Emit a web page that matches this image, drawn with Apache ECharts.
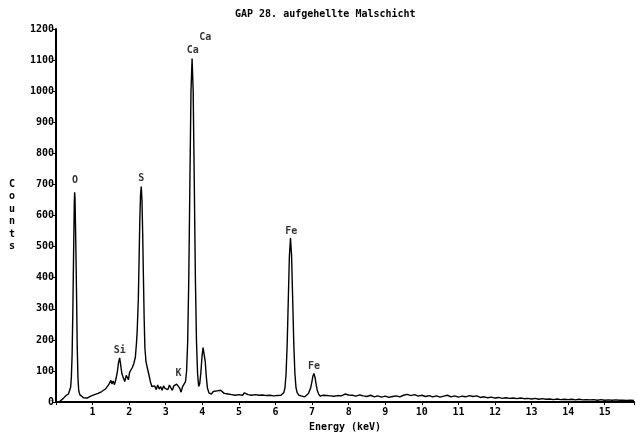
<!DOCTYPE html>
<html>
<head>
<meta charset="utf-8">
<title>GAP 28</title>
<script src="https://cdn.jsdelivr.net/npm/echarts@6/dist/echarts.min.js"></script>
<style>
	html, body { margin: 0; padding: 0; background: #fff; }
	#spectrum { width: 637px; height: 437px; }
</style>
</head>
<body>
<div id="spectrum"></div>
<script>
// [keV, counts]
var lowRegion = [
	[0.00, 0], [0.05, 0], [0.10, 2], [0.15, 5], [0.20, 12], [0.25, 18], [0.28, 22], [0.31, 20],
	[0.34, 26], [0.37, 30], [0.40, 48], [0.42, 80], [0.44, 150], [0.46, 290], [0.48, 470],
	[0.50, 640], [0.51, 675], [0.52, 655], [0.54, 520], [0.56, 360], [0.58, 180], [0.60, 80],
	[0.62, 38], [0.65, 24], [0.70, 18], [0.75, 14], [0.80, 10], [0.85, 13], [0.90, 12],
	[0.95, 19], [1.00, 17], [1.05, 24], [1.10, 21], [1.15, 28], [1.20, 24], [1.25, 34],
	[1.30, 31], [1.35, 42], [1.40, 38], [1.45, 58], [1.50, 70], [1.53, 58], [1.56, 68],
	[1.60, 56], [1.64, 75], [1.68, 100], [1.71, 128], [1.74, 142], [1.77, 118], [1.80, 92],
	[1.84, 78], [1.88, 66], [1.92, 86], [1.95, 92], [1.98, 72], [2.01, 95], [2.05, 104],
	[2.09, 112], [2.13, 125], [2.17, 145], [2.20, 190], [2.22, 230], [2.25, 330], [2.27, 450],
	[2.29, 580], [2.31, 665], [2.33, 693], [2.35, 650], [2.37, 540], [2.39, 400], [2.41, 270],
	[2.43, 175], [2.46, 130], [2.50, 108], [2.54, 88], [2.58, 66], [2.62, 50]
];
var caRegion = [
	[2.66, 45], [2.70, 52], [2.74, 40], [2.78, 55], [2.82, 42], [2.86, 50], [2.90, 38],
	[2.94, 52], [2.98, 44], [3.02, 50], [3.06, 40], [3.10, 55], [3.14, 46], [3.18, 38],
	[3.22, 52], [3.26, 48], [3.30, 58], [3.34, 62], [3.38, 45], [3.42, 32], [3.46, 50],
	[3.50, 58], [3.54, 66], [3.57, 100], [3.60, 196], [3.63, 400], [3.66, 705], [3.69, 1000],
	[3.72, 1105], [3.75, 1000], [3.78, 705], [3.81, 400], [3.84, 196], [3.87, 92], [3.90, 50],
	[3.93, 60], [3.96, 95], [3.99, 145], [4.02, 175], [4.05, 170], [4.08, 130], [4.11, 80],
	[4.14, 45], [4.18, 30]
];
var feRegion = [
	[4.20, 32], [4.25, 26], [4.30, 34], [4.35, 28], [4.40, 36], [4.45, 30], [4.50, 38],
	[4.55, 32], [4.60, 28], [4.65, 34], [4.70, 26], [4.75, 30], [4.80, 24], [4.85, 28],
	[4.90, 22], [4.95, 26], [5.00, 24], [5.05, 28], [5.10, 22], [5.15, 30], [5.20, 26],
	[5.25, 24], [5.30, 30], [5.35, 22], [5.40, 28], [5.45, 24], [5.50, 26], [5.55, 22],
	[5.60, 27], [5.65, 23], [5.70, 26], [5.75, 21], [5.80, 25], [5.85, 22], [5.90, 24],
	[5.95, 20], [6.00, 23], [6.05, 21], [6.10, 24], [6.15, 22], [6.20, 26], [6.23, 31],
	[6.26, 47], [6.29, 93], [6.32, 188], [6.35, 330], [6.38, 469], [6.41, 528], [6.44, 469],
	[6.47, 330], [6.50, 188], [6.53, 93], [6.56, 47], [6.59, 31], [6.64, 22], [6.70, 20],
	[6.75, 18], [6.80, 17], [6.85, 20], [6.90, 28], [6.93, 34], [6.96, 45], [6.99, 62],
	[7.02, 82], [7.05, 92], [7.08, 80], [7.11, 58], [7.14, 38], [7.18, 26], [7.22, 19],
	[7.25, 19], [7.30, 22], [7.35, 18], [7.40, 21], [7.45, 25], [7.50, 20], [7.55, 23],
	[7.60, 19], [7.65, 24], [7.70, 21], [7.75, 25], [7.80, 20], [7.85, 23], [7.90, 26],
	[7.95, 21], [8.00, 23]
];
var tailRegion = [
	[8.1, 22], [8.2, 19], [8.3, 23], [8.4, 20], [8.5, 18], [8.6, 22], [8.7, 17], [8.8, 20],
	[8.9, 16], [9.0, 19], [9.1, 15], [9.2, 18], [9.3, 20], [9.4, 17], [9.5, 22], [9.6, 25],
	[9.7, 21], [9.8, 24], [9.9, 19], [10.0, 22], [10.1, 18], [10.2, 21], [10.3, 17],
	[10.4, 20], [10.5, 16], [10.6, 19], [10.7, 22], [10.8, 17], [10.9, 20], [11.0, 16],
	[11.1, 19], [11.2, 17], [11.3, 21], [11.4, 18], [11.5, 20], [11.6, 15], [11.7, 17],
	[11.8, 14], [11.9, 16], [12.0, 13], [12.1, 15], [12.2, 12], [12.3, 14], [12.4, 12],
	[12.5, 13], [12.6, 11], [12.7, 13], [12.8, 11], [12.9, 12], [13.0, 10], [13.1, 12],
	[13.2, 9], [13.3, 11], [13.4, 9], [13.5, 10], [13.6, 8], [13.7, 10], [13.8, 8],
	[13.9, 9], [14.0, 8], [14.1, 9], [14.2, 7], [14.3, 9], [14.4, 7], [14.5, 8], [14.6, 7],
	[14.7, 8], [14.8, 6], [14.9, 8], [15.0, 6], [15.1, 7], [15.2, 6], [15.3, 7], [15.4, 6],
	[15.5, 6], [15.6, 5], [15.7, 6], [15.8, 5]
];

var peakNames = ['O', 'Si', 'S', 'K', 'Ca', 'Ca', 'Fe', 'Fe'];
var peakLabelPos = [[0.52, 712], [1.74, 166], [2.33, 719], [3.35, 92], [3.74, 1132], [4.08, 1174], [6.43, 549], [7.05, 115]];

var monoFont = '"DejaVu Sans Mono", monospace';

function showSpectrumEchart(id){
	var spectrumChart = echarts.init(document.getElementById(id));
	var labelData = [];
	for (var i = 0; i < peakNames.length; i++) {
		labelData.push({ name : peakNames[i], value : peakLabelPos[i] });
	}
	var spectrumOption = {
		animation : false,
		title : {
			text : 'GAP 28. aufgehellte Malschicht',
			left : 235,
			top : 9,
			padding : 0,
			textStyle : {
				color : '#000',
				fontFamily : monoFont,
				fontWeight : 'bold',
				fontSize : 10
			}
		},
		grid : {
			left : 56,
			right : 0,
			top : 29,
			bottom : 28
		},
		xAxis : {
			type : 'value',
			min : 0,
			max : 15.8,
			interval : 1,
			name : 'Energy (keV)',
			nameLocation : 'middle',
			nameGap : 17,
			nameTextStyle : {
				color : '#000',
				fontFamily : monoFont,
				fontWeight : 'bold',
				fontSize : 10
			},
			axisLine : {
				show : true,
				lineStyle : { color : '#000', width : 2 }
			},
			axisTick : {
				show : true,
				length : 3,
				lineStyle : { color : '#000' }
			},
			axisLabel : {
				margin : 5,
				color : '#000',
				fontFamily : monoFont,
				fontWeight : 'bold',
				fontSize : 10,
				formatter : function(v){
					return (v > 0 && v <= 15 && v % 1 === 0) ? String(v) : '';
				}
			},
			splitLine : { show : false }
		},
		yAxis : {
			type : 'value',
			min : 0,
			max : 1200,
			interval : 100,
			name : 'C\no\nu\nn\nt\ns',
			nameLocation : 'middle',
			nameRotate : 0,
			nameGap : 41,
			nameTextStyle : {
				color : '#000',
				fontFamily : monoFont,
				fontWeight : 'bold',
				fontSize : 10,
				lineHeight : 12.5
			},
			axisLine : {
				show : true,
				lineStyle : { color : '#000', width : 2 }
			},
			axisTick : {
				show : true,
				length : 3,
				lineStyle : { color : '#000' }
			},
			axisLabel : {
				margin : 2,
				color : '#000',
				fontFamily : monoFont,
				fontWeight : 'bold',
				fontSize : 10,
				formatter : function(v){
					return String(v);
				}
			},
			splitLine : { show : false }
		},
		series : [ {
			name : 'spectrum',
			type : 'line',
			data : lowRegion.concat(caRegion, feRegion, tailRegion),
			symbol : 'none',
			lineStyle : { color : '#000', width : 1.4 }
		}, {
			name : 'peaks',
			type : 'scatter',
			data : labelData,
			symbolSize : 1,
			itemStyle : { color : 'rgba(0,0,0,0)' },
			label : {
				show : true,
				position : 'inside',
				formatter : '{b}',
				color : '#000',
				fontFamily : monoFont,
				fontWeight : 'bold',
				fontSize : 10
			}
		} ]
	};
	spectrumChart.setOption(spectrumOption);
}
showSpectrumEchart('spectrum');
</script>
</body>
</html>
